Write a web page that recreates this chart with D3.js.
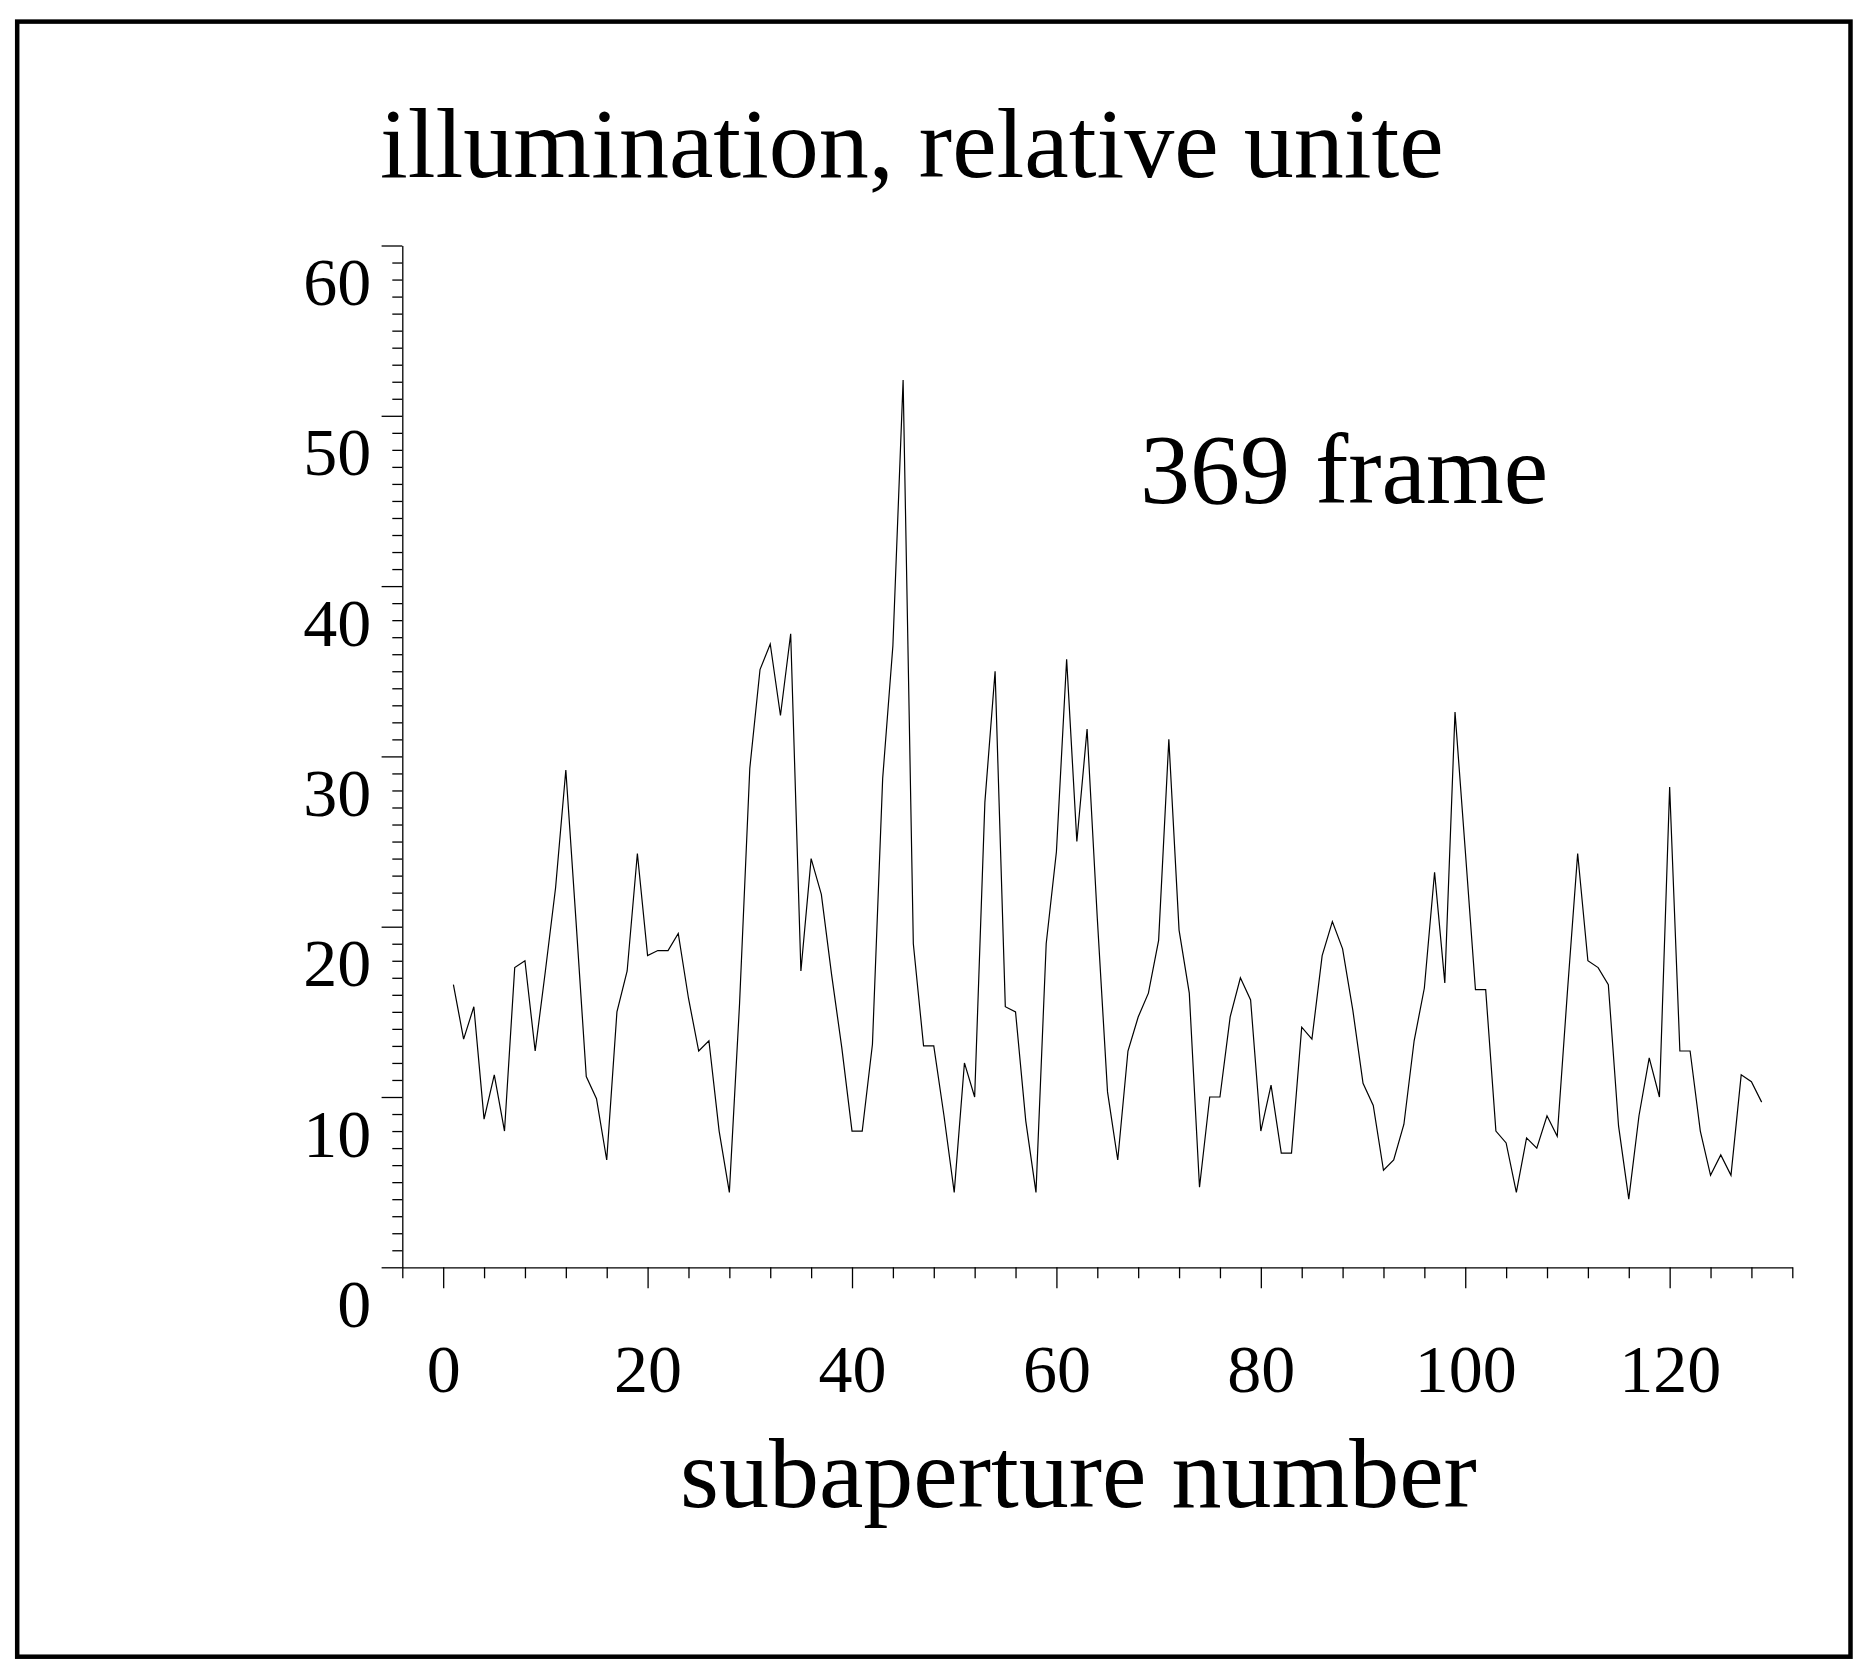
<!DOCTYPE html>
<html>
<head>
<meta charset="utf-8">
<script src="https://cdn.jsdelivr.net/npm/d3@7"></script>
<style>
  html, body { margin: 0; padding: 0; background: #fff; }
  svg { display: block; }
  text { font-family: "Liberation Serif", "Times New Roman", serif; fill: #000; }
</style>
</head>
<body>
<script>
// ---- data ----
const subaperture = d3.range(1, 130); // subaperture numbers 1..129
const illumination = [
  16.6, 13.4, 15.3, 8.7, 11.3, 8.0, 17.6, 18.0, 12.7, 17.4,
  22.3, 29.2, 20.3, 11.2, 9.9, 6.3, 15.0, 17.4, 24.3, 18.3,
  18.6, 18.6, 19.6, 15.8, 12.7, 13.3, 8.0, 4.4, 15.5, 29.3,
  35.1, 36.6, 32.4, 37.2, 17.4, 24.0, 21.9, 17.2, 12.9, 8.0,
  8.0, 13.1, 28.7, 36.5, 52.1, 19.0, 13.0, 13.0, 8.9, 4.4,
  12.0, 10.0, 27.3, 35.0, 15.3, 15.0, 8.6, 4.4, 19.0, 24.4,
  35.7, 25.0, 31.6, 20.5, 10.3, 6.3, 12.7, 14.7, 16.1, 19.2,
  31.0, 19.8, 16.1, 4.7, 10.0, 10.0, 14.7, 17.0, 15.7, 8.0,
  10.7, 6.7, 6.7, 14.1, 13.4, 18.3, 20.3, 18.7, 15.1, 10.8,
  9.5, 5.7, 6.3, 8.4, 13.3, 16.4, 23.2, 16.7, 32.6, 24.5,
  16.3, 16.3, 8.0, 7.3, 4.4, 7.6, 7.0, 8.9, 7.7, 16.2,
  24.3, 18.0, 17.6, 16.6, 8.3, 4.0, 8.9, 12.3, 10.0, 28.2,
  12.7, 12.7, 8.0, 5.4, 6.6, 5.4, 11.3, 10.9, 9.7
];
const xMajorTicks = [0, 20, 40, 60, 80, 100, 120];
const xMinorTicks = [-4, 4, 8, 12, 16, 24, 28, 32, 36, 44, 48, 52, 56, 64, 68, 72, 76, 84, 88, 92, 96, 104, 108, 112, 116, 124, 128, 132];
const yMajorTicks = [0, 10, 20, 30, 40, 50, 60];
const yMinorTicks = d3.range(0, 61).filter(v => v % 10 !== 0);
const titleText = "illumination, relative unite";
const noteText = "369 frame";
const xLabelText = "subaperture number";

// ---- layout ----
const W = 1871, H = 1679;
const svg = d3.select("body").append("svg").attr("width", W).attr("height", H);

svg.append("rect")
  .attr("x", 17.2).attr("y", 21.6).attr("width", 1833.3).attr("height", 1635.1)
  .attr("fill", "none").attr("stroke", "#000").attr("stroke-width", 4.5);

const x = d3.scaleLinear().domain([-4, 132]).range([402.3, 1792.3]);
const y = d3.scaleLinear().domain([0, 60]).range([1267.3, 245.5]);

const axisY = 1267.3, axisX = 402.3;

// y axis minor
svg.append("g").attr("transform", `translate(${axisX},0)`)
  .call(d3.axisLeft(y).tickValues(yMinorTicks).tickSize(10).tickSizeOuter(0).tickFormat(""))
  .call(g => g.select(".domain").remove());
// y axis major
const gy = svg.append("g").attr("transform", `translate(${axisX},0)`)
  .call(d3.axisLeft(y).tickValues(yMajorTicks).tickSize(20.7).tickSizeOuter(0).tickFormat(d3.format("d")));
gy.selectAll("text")
  .attr("x", -31).attr("y", 59).attr("dy", null)
  .attr("font-size", 68).attr("font-family", null)
  .style("font-family", '"Liberation Serif", "Times New Roman", serif');

// x axis minor
svg.append("g").attr("transform", `translate(0,${axisY})`)
  .call(d3.axisBottom(x).tickValues(xMinorTicks).tickSize(11).tickSizeOuter(0).tickFormat(""))
  .call(g => g.select(".domain").remove());
// x axis major
const gx = svg.append("g").attr("transform", `translate(0,${axisY})`)
  .call(d3.axisBottom(x).tickValues(xMajorTicks).tickSize(21).tickSizeOuter(0).tickFormat(d3.format("d")));
gx.selectAll("text")
  .attr("y", 1391.7 - axisY).attr("dy", null)
  .attr("font-size", 68).attr("font-family", null)
  .style("font-family", '"Liberation Serif", "Times New Roman", serif');

svg.selectAll(".domain, .tick line").attr("stroke", "#000").attr("stroke-width", 1.3);

// data line
const line = d3.line()
  .x((d, i) => x(subaperture[i]))
  .y(d => y(d));
svg.append("path")
  .datum(illumination)
  .attr("d", line)
  .attr("fill", "none")
  .attr("stroke", "#000")
  .attr("stroke-width", 1.2)
  .attr("stroke-linejoin", "miter");

// texts
svg.append("text").attr("x", 380).attr("y", 177).attr("font-size", 100).text(titleText);
svg.append("text").attr("x", 1140).attr("y", 503).attr("font-size", 100).text(noteText);
svg.append("text").attr("x", 680).attr("y", 1507).attr("font-size", 100).text(xLabelText);
</script>
</body>
</html>
